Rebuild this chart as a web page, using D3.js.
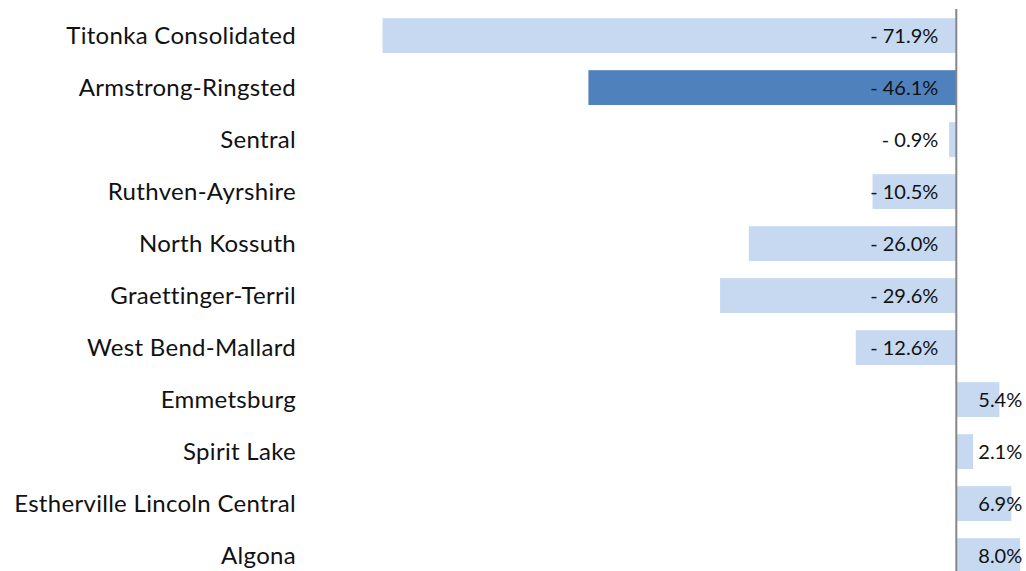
<!DOCTYPE html>
<html>
<head>
<meta charset="utf-8">
<script src="https://cdn.jsdelivr.net/npm/d3@7"></script>
<style>
  body { margin: 0; background: #fff; }
  svg { display: block; font-family: Lato, "Open Sans", sans-serif; }
</style>
</head>
<body>
<svg id="chart" width="1026" height="571"></svg>
<script>
// districts, top to bottom
const districts = ["Titonka Consolidated", "Armstrong-Ringsted", "Sentral", "Ruthven-Ayrshire",
    "North Kossuth", "Graettinger-Terril", "West Bend-Mallard", "Emmetsburg", "Spirit Lake",
    "Estherville Lincoln Central", "Algona"];
const pctChange = [-71.9, -46.1, -0.9, -10.5, -26.0, -29.6, -12.6, 5.4, 2.1, 6.9, 8.0];
const highlighted = ["Armstrong-Ringsted"];

const svg = d3.select("#chart");
const data = districts.map((d, i) => ({ name: d, value: pctChange[i] }));

let x = d3.scaleLinear().domain([-80, 10]).range([317.9, 1036.1]);
let y = d3.scaleBand().domain(districts).range([9.6, 581.6]).paddingInner(0.33).paddingOuter(0.165);

svg.selectAll(".bar")
    .data(data)
    .enter()
    .append("rect")
    .attr("class", "bar")
    .attr("x", d => x(Math.min(0, d.value)))
    .attr("y", d => y(d.name))
    .attr("width", d => Math.abs(x(d.value) - x(0)))
    .attr("height", y.bandwidth())
    .attr("fill", d => highlighted.includes(d.name) ? "#4f81bd" : "#c6d9f1");

// zero axis line
svg.append("line")
    .attr("x1", x(0)).attr("x2", x(0))
    .attr("y1", 9).attr("y2", 571)
    .attr("stroke", "#868686")
    .attr("stroke-width", 2);

// category labels
svg.selectAll(".cat")
    .data(data)
    .enter()
    .append("text")
    .attr("class", "cat")
    .attr("x", 296)
    .attr("y", d => y(d.name) + y.bandwidth() / 2)
    .attr("dy", "0.35em")
    .attr("text-anchor", "end")
    .attr("font-size", 24)
    .attr("letter-spacing", 0.3)
    .attr("fill", "#111")
    .text(d => d.name);

// value labels
let fmt = v => v < 0 ? "- " + Math.abs(v).toFixed(1) + "%" : v.toFixed(1) + "%";
svg.selectAll(".val")
    .data(data)
    .enter()
    .append("text")
    .attr("class", "val")
    .attr("x", d => d.value < 0 ? x(0) - 18 : x(0) + 22)
    .attr("y", d => y(d.name) + y.bandwidth() / 2)
    .attr("dy", "0.35em")
    .attr("text-anchor", d => d.value < 0 ? "end" : "start")
    .attr("font-size", 20)
    .attr("fill", "#111")
    .text(d => fmt(d.value));
</script>
</body>
</html>
